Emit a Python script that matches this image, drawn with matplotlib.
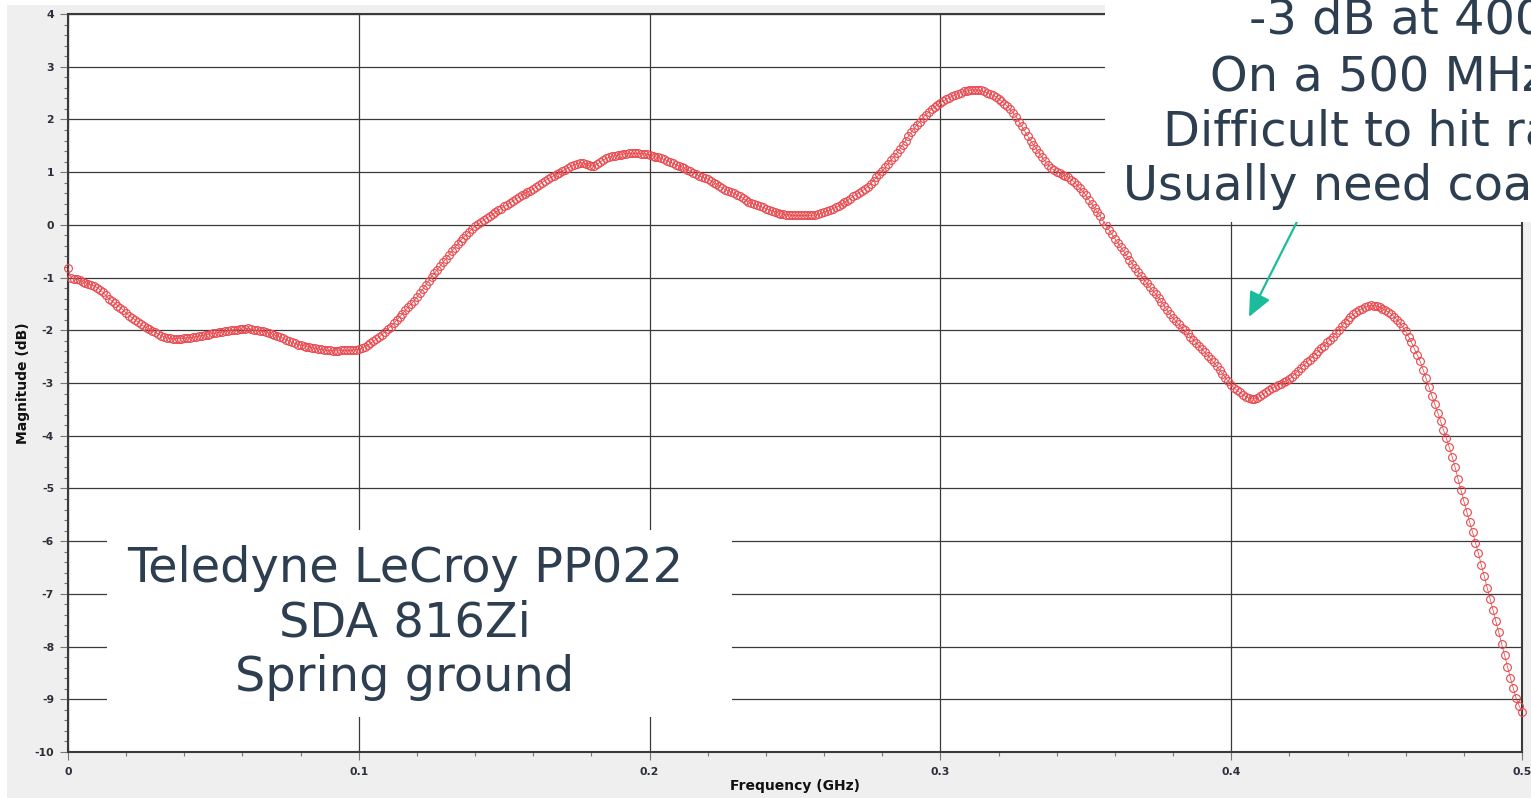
import numpy as np
import matplotlib
matplotlib.use("Agg")
import matplotlib.pyplot as plt
from matplotlib.patches import Rectangle
from matplotlib.ticker import MultipleLocator, FormatStrFormatter

# ---------------- data ----------------
freq_step_ghz = 0.001   # 1 MHz sample spacing
mag_db = [
    -0.82, -1.00, -1.02, -1.03, -1.05, -1.08, -1.10, -1.12, -1.14, -1.16,
    -1.19, -1.23, -1.28, -1.34, -1.40, -1.44, -1.48, -1.53, -1.57, -1.62,
    -1.67, -1.72, -1.76, -1.80, -1.84, -1.88, -1.92, -1.95, -1.98, -2.01,
    -2.04, -2.07, -2.10, -2.12, -2.14, -2.15, -2.16, -2.16, -2.16, -2.16,
    -2.15, -2.14, -2.14, -2.13, -2.12, -2.11, -2.10, -2.09, -2.08, -2.07,
    -2.06, -2.05, -2.04, -2.03, -2.02, -2.01, -2.00, -1.99, -1.99, -1.98,
    -1.98, -1.97, -1.96, -1.98, -2.00, -2.00, -2.01, -2.02, -2.03, -2.05,
    -2.07, -2.09, -2.11, -2.13, -2.15, -2.18, -2.20, -2.23, -2.25, -2.27,
    -2.28, -2.29, -2.31, -2.32, -2.33, -2.34, -2.35, -2.36, -2.37, -2.38,
    -2.38, -2.39, -2.39, -2.39, -2.38, -2.38, -2.38, -2.38, -2.37, -2.37,
    -2.36, -2.34, -2.31, -2.28, -2.25, -2.21, -2.17, -2.13, -2.08, -2.03,
    -1.97, -1.93, -1.87, -1.81, -1.75, -1.69, -1.62, -1.56, -1.50, -1.44,
    -1.37, -1.30, -1.22, -1.14, -1.06, -0.98, -0.92, -0.85, -0.78, -0.71,
    -0.64, -0.57, -0.50, -0.43, -0.36, -0.30, -0.24, -0.19, -0.13, -0.08,
    -0.03, 0.01, 0.05, 0.09, 0.13, 0.16, 0.20, 0.24, 0.28, 0.31,
    0.35, 0.38, 0.42, 0.45, 0.49, 0.52, 0.56, 0.59, 0.62, 0.65,
    0.68, 0.72, 0.76, 0.80, 0.84, 0.87, 0.90, 0.93, 0.96, 0.99,
    1.02, 1.05, 1.08, 1.11, 1.14, 1.16, 1.18, 1.18, 1.16, 1.13,
    1.12, 1.12, 1.15, 1.19, 1.23, 1.26, 1.28, 1.30, 1.31, 1.32,
    1.33, 1.34, 1.35, 1.36, 1.36, 1.36, 1.36, 1.35, 1.35, 1.34,
    1.33, 1.31, 1.29, 1.28, 1.26, 1.24, 1.22, 1.19, 1.17, 1.14,
    1.12, 1.10, 1.07, 1.04, 1.02, 0.99, 0.96, 0.93, 0.91, 0.89,
    0.87, 0.84, 0.80, 0.77, 0.73, 0.70, 0.67, 0.65, 0.62, 0.60,
    0.57, 0.54, 0.51, 0.47, 0.44, 0.41, 0.39, 0.37, 0.35, 0.33,
    0.31, 0.29, 0.27, 0.25, 0.23, 0.21, 0.20, 0.19, 0.19, 0.18,
    0.18, 0.18, 0.18, 0.18, 0.18, 0.18, 0.18, 0.19, 0.20, 0.22,
    0.24, 0.26, 0.28, 0.31, 0.33, 0.36, 0.39, 0.43, 0.46, 0.50,
    0.54, 0.57, 0.61, 0.64, 0.68, 0.72, 0.78, 0.84, 0.90, 0.96,
    1.02, 1.09, 1.16, 1.23, 1.29, 1.36, 1.44, 1.52, 1.60, 1.68,
    1.76, 1.83, 1.90, 1.96, 2.03, 2.09, 2.14, 2.19, 2.24, 2.28,
    2.32, 2.35, 2.38, 2.41, 2.44, 2.47, 2.49, 2.51, 2.53, 2.54,
    2.55, 2.56, 2.56, 2.56, 2.55, 2.53, 2.51, 2.48, 2.46, 2.43,
    2.39, 2.35, 2.30, 2.25, 2.19, 2.13, 2.05, 1.96, 1.87, 1.78,
    1.69, 1.60, 1.52, 1.44, 1.36, 1.28, 1.21, 1.14, 1.08, 1.04,
    1.01, 0.98, 0.95, 0.93, 0.90, 0.86, 0.81, 0.75, 0.69, 0.63,
    0.56, 0.48, 0.40, 0.32, 0.24, 0.16, 0.07, -0.01, -0.10, -0.18,
    -0.26, -0.34, -0.42, -0.50, -0.58, -0.66, -0.74, -0.82, -0.89, -0.97,
    -1.04, -1.11, -1.18, -1.25, -1.31, -1.38, -1.46, -1.54, -1.62, -1.70,
    -1.77, -1.83, -1.89, -1.95, -2.00, -2.06, -2.12, -2.18, -2.24, -2.30,
    -2.36, -2.42, -2.48, -2.55, -2.61, -2.68, -2.75, -2.82, -2.90, -2.97,
    -3.04, -3.09, -3.14, -3.18, -3.22, -3.26, -3.28, -3.30, -3.30, -3.28,
    -3.25, -3.21, -3.17, -3.13, -3.10, -3.07, -3.04, -3.01, -2.98, -2.96,
    -2.93, -2.88, -2.82, -2.77, -2.71, -2.66, -2.61, -2.56, -2.50, -2.45,
    -2.40, -2.34, -2.29, -2.23, -2.18, -2.12, -2.05, -1.99, -1.92, -1.86,
    -1.80, -1.75, -1.70, -1.66, -1.62, -1.59, -1.56, -1.54, -1.52, -1.53,
    -1.54, -1.56, -1.59, -1.62, -1.65, -1.69, -1.74, -1.80, -1.86, -1.94,
    -2.02, -2.12, -2.23, -2.35, -2.47, -2.59, -2.75, -2.91, -3.07, -3.24,
    -3.40, -3.56, -3.72, -3.89, -4.05, -4.22, -4.40, -4.60, -4.82, -5.03,
    -5.24, -5.44, -5.64, -5.83, -6.03, -6.23, -6.45, -6.66, -6.88, -7.09,
    -7.30, -7.52, -7.73, -7.95, -8.16, -8.38, -8.59, -8.79, -8.98, -9.12,
    -9.24,
]
freq_ghz = np.arange(len(mag_db)) * freq_step_ghz

x_label = "Frequency (GHz)"
y_label = "Magnitude (dB)"
probe_lines = ["Teledyne LeCroy PP022", "SDA 816Zi", "Spring ground"]
note_lines = ["-3 dB at 400 MHz", "On a 500 MHz scope",
              "Difficult to hit rated bandwidth", "Usually need coax"]
arrow_tip = (0.4061, -1.747)
arrow_tail = (0.4225, 0.045)

# ---------------- layout ----------------
W, H = 1531, 798
fig = plt.figure(figsize=(W / 100, H / 100), dpi=100, facecolor="#efefef")

def fx(px):
    return px / W

def fy(py):
    return 1 - py / H

# white margins (left / top) outside the grey panel
fig.add_artist(Rectangle((0, 0), fx(7), 1, transform=fig.transFigure,
                         facecolor="white", edgecolor="none", zorder=-1))
fig.add_artist(Rectangle((0, fy(5)), 1, 5 / H, transform=fig.transFigure,
                         facecolor="white", edgecolor="none", zorder=-1))

ax = fig.add_axes([fx(68), fy(752), fx(1522) - fx(68), fy(14) - fy(752)])
ax.set_facecolor("white")
ax.set_xlim(0, 0.5)
ax.set_ylim(-10, 4)

ax.plot(freq_ghz, mag_db, "-o", color="#e8383d", lw=0.5, ms=5.6,
        mfc="none", mec="#e8464b", mew=0.8, zorder=3, clip_on=False)

ax.xaxis.set_major_locator(MultipleLocator(0.1))
ax.xaxis.set_minor_locator(MultipleLocator(0.02))
ax.yaxis.set_major_locator(MultipleLocator(1))
ax.yaxis.set_minor_locator(MultipleLocator(0.2))
ax.xaxis.set_major_formatter(FormatStrFormatter("%g"))
ax.yaxis.set_major_formatter(FormatStrFormatter("%d"))

ax.grid(which="major", color="#3a3a3a", lw=0.9)
ax.set_axisbelow(True)
for s in ax.spines.values():
    s.set_color("#3a3a3a")
    s.set_linewidth(1.5)

ax.tick_params(which="major", direction="out", length=6, width=0.8,
               color="#777777", labelsize=7.8, labelcolor="#2b2f3a")
ax.tick_params(axis="x", which="major", pad=5)
ax.tick_params(axis="y", which="major", pad=4)
ax.tick_params(which="minor", direction="out", length=3, width=0.8,
               color="#777777")
for lab in ax.get_xticklabels() + ax.get_yticklabels():
    lab.set_fontweight("bold")

ax.set_xlabel(x_label, fontsize=10, fontweight="bold", color="#111111", labelpad=1)
ax.set_ylabel(y_label, fontsize=10, fontweight="bold", color="#111111", labelpad=3)

ax.annotate("", xy=arrow_tip, xytext=arrow_tail, xycoords="data",
            arrowprops=dict(arrowstyle="-|>,head_length=1.0,head_width=0.45",
                            color="#1abc9c", lw=1.6, mutation_scale=15,
                            shrinkA=0, shrinkB=0),
            annotation_clip=False, zorder=4)

# white text boxes
fig.add_artist(Rectangle((fx(1105), fy(222)), 1 - fx(1105), 222 / H,
                         transform=fig.transFigure, facecolor="white",
                         edgecolor="none", zorder=2))
fig.add_artist(Rectangle((fx(107), fy(717)), fx(732) - fx(107), (717 - 530) / H,
                         transform=fig.transFigure, facecolor="white",
                         edgecolor="none", zorder=2))

text_color = "#2c3e50"
fs_big = 34.5
fig.text(fx(405), fy(623), "\n".join(probe_lines), ha="center", va="center",
         multialignment="center", fontsize=fs_big, color=text_color,
         linespacing=1.2, zorder=3)

note_x = [1249, 1210, 1163, 1123]
note_base = [34, 91, 146, 200]
for s, xp, yp in zip(note_lines, note_x, note_base):
    fig.text(fx(xp), fy(yp), s, ha="left", va="baseline", fontsize=fs_big,
             color=text_color, zorder=3)

fig.savefig("out.png", dpi=100, facecolor=fig.get_facecolor())
